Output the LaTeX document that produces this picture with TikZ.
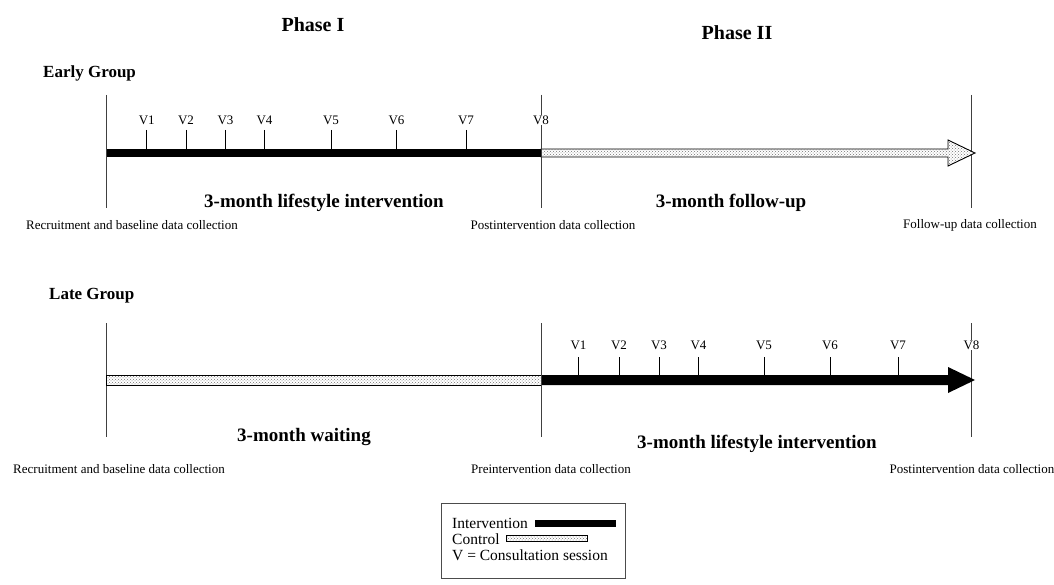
\documentclass[tikz,border=0pt]{standalone}
\usepackage{fontspec}
\setmainfont{Liberation Serif}
\usetikzlibrary{patterns}
\begin{document}
\begin{tikzpicture}[x=1pt,y=-1pt,
  ttl/.style={font=\fontsize{20}{22}\selectfont\bfseries},
  grp/.style={font=\fontsize{17}{19}\selectfont\bfseries, anchor=west, inner sep=0pt},
  per/.style={font=\fontsize{19}{21}\selectfont\bfseries},
  small/.style={font=\fontsize{13}{15}\selectfont},
  vlab/.style={font=\fontsize{13}{15}\selectfont, inner sep=1pt, fill=white},
  vline/.style={draw=black!75, line width=0.9pt},
  tickline/.style={draw=black, line width=0.9pt},
  ctrl/.style={draw=black, line width=0.9pt, preaction={fill=white}, pattern=crosshatch dots, pattern color=black!55},
  intv/.style={fill=black},
  leg/.style={font=\fontsize{15.5}{17}\selectfont, anchor=west, inner sep=0pt}]
\useasboundingbox (0,0) rectangle (1054,585);

% titles
\node[ttl] (ph1) at (313,25) {Phase I};
\node[ttl] (ph2) at (737,33) {Phase II};
\node[grp] (early) at (43,73) {Early Group};
\node[grp] (late) at (49,296) {Late Group};

% ---------- Early group ----------
\foreach \n/\x in {a/106.7, b/541, c/971.5} {
  \coordinate (E\n t) at (\x,95);
  \coordinate (E\n b) at (\x,208);
  \draw[vline] (E\n t) -- (E\n b);
}
% bars
\fill[intv] (106.7,149) rectangle (541,157);
\draw[ctrl] (541,149) -- (948,149) -- (948,140) -- (975,153) -- (948,166) -- (948,157) -- (541,157) -- cycle;
\draw[vline] (Ebt) -- (Ebb);
% ticks
\foreach \i/\x in {1/146.7, 2/186, 3/225.5, 4/264.5, 5/331, 6/396.5, 7/466} {
  \coordinate (ET\i) at (\x,130);
  \coordinate (EB\i) at (\x,149);
  \draw[tickline] (ET\i) -- (EB\i);
  \node[vlab] (EV\i) at (\x,120) {V\i};
}
\node[vlab] (EV8) at (541,120) {V8};

\node[per] (eint) at (324,203) {3-month lifestyle intervention};
\node[per] (efol) at (731,203) {3-month follow-up};
\node[small] (erec) at (132,225) {Recruitment and baseline data collection};
\node[small] (epost) at (553,225) {Postintervention data collection};
\node[small] (efu) at (970,225) {Follow-up data collection};

% ---------- Late group ----------
\foreach \n/\x in {a/106.7, b/541, c/971.5} {
  \coordinate (L\n t) at (\x,323);
  \coordinate (L\n b) at (\x,437);
  \draw[vline] (L\n t) -- (L\n b);
}
\draw[ctrl] (106.7,375) rectangle (541,385);
\fill[intv] (541,375) -- (948,375) -- (948,367) -- (975,380) -- (948,393) -- (948,385) -- (541,385) -- cycle;
\draw[vline] (Lbt) -- (Lbb);
\foreach \i/\x in {1/578.5, 2/619, 3/659, 4/698.5, 5/764, 6/830, 7/898} {
  \coordinate (LT\i) at (\x,357);
  \coordinate (LB\i) at (\x,375);
  \draw[tickline] (LT\i) -- (LB\i);
  \node[vlab] (LV\i) at (\x,345) {V\i};
}
\node[vlab] (LV8) at (971.5,345) {V8};

\node[per] (lwait) at (304,437) {3-month waiting};
\node[per] (lint) at (757,444) {3-month lifestyle intervention};
\node[small] (lrec) at (119,469) {Recruitment and baseline data collection};
\node[small] (lpre) at (551,469) {Preintervention data collection};
\node[small] (lpost) at (972,469) {Postintervention data collection};

% ---------- Legend ----------
\node[draw=black!70, line width=0.8pt, minimum width=184pt, minimum height=75pt, anchor=north west, inner sep=0pt] (legend) at (441,503) {};
\node[leg] (lgi) at (452,523) {Intervention};
\fill[intv] (535,520) rectangle (616,527);
\node[leg] (lgc) at (452,539) {Control};
\draw[ctrl, line width=0.6pt] (506,535) rectangle (587,541);
\node[leg] (lgv) at (452,555) {V = Consultation session};
\end{tikzpicture}
\end{document}
